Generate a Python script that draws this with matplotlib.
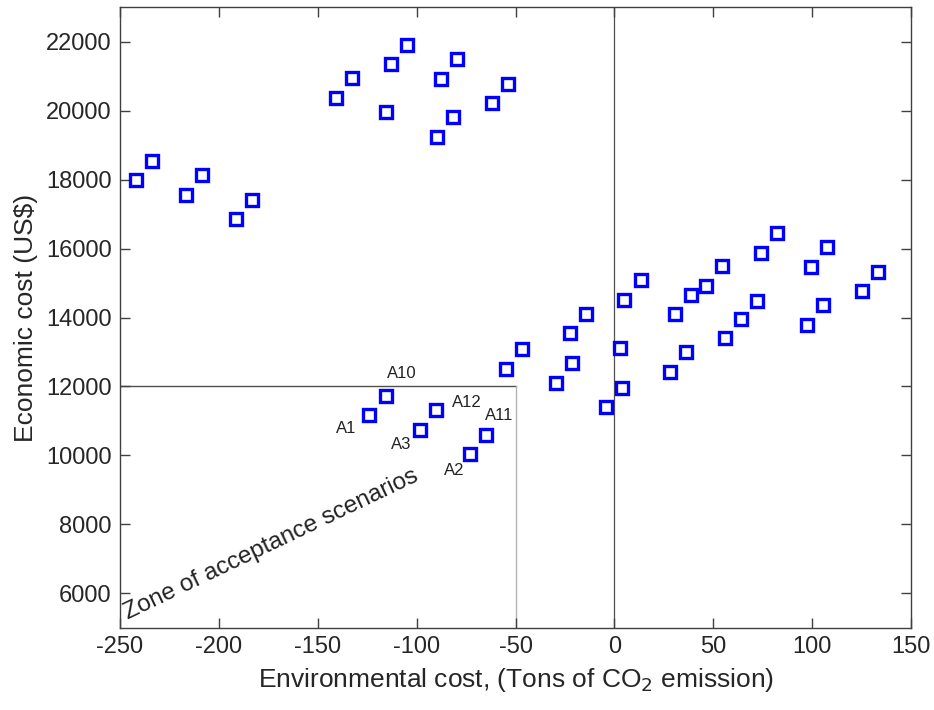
import matplotlib
matplotlib.use("Agg")
import matplotlib.pyplot as plt

plt.rcParams['font.family'] = ['Liberation Sans', 'DejaVu Sans']
plt.rcParams['axes.unicode_minus'] = False

# scenarios (environmental cost, economic cost)
env_cost = [-242.1, -234.0, -216.8, -208.4, -191.2, -183.1,
            -140.8, -132.5, -115.3, -113.0, -104.7, -89.9, -87.5, -81.6, -79.4, -62.1, -54.0,
            -123.9, -115.7, -98.5, -90.4, -73.0, -64.9,
            -55.0, -46.9, -29.5, -22.5, -21.4, -14.4, -4.2, 2.8, 4.0, 5.0, 13.3,
            30.5, 38.7, 46.3, 54.6, 28.1, 36.4, 56.1, 64.2, 72.0, 74.1, 82.4,
            97.4, 99.6, 105.5, 107.7, 125.1, 133.3]
econ_cost = [17980, 18552, 17564, 18134, 16855, 17419,
             20363, 20936, 19956, 21343, 21904, 19250, 20924, 19811, 21488, 20218, 20779,
             11157, 11709, 10750, 11314, 10035, 10596,
             12515, 13076, 12108, 13541, 12669, 14105, 11401, 13125, 11962, 14520, 15081,
             14093, 14666, 14919, 15480, 12427, 12988, 13395, 13948, 14491, 15878, 16448,
             13794, 15471, 14355, 16032, 14762, 15326]

# labelled accepted scenarios and where their labels sit
label_names = ['A10', 'A1', 'A3', 'A12', 'A11', 'A2']
label_x = [-107.6, -135.7, -108.0, -74.4, -58.3, -81.1]
label_y = [12378, 10779, 10305, 11535, 11151, 9547]

zone_x = -50
zone_y = 12000

fig = plt.figure(figsize=(9.34, 7.10), dpi=100)
ax = fig.add_axes([120 / 934, 1 - 627.7 / 710, 791 / 934, 620.4 / 710])

ax.plot(env_cost, econ_cost, linestyle='none', marker='s', markersize=8.5,
        markeredgewidth=2.4, markeredgecolor='#0000ff', markerfacecolor='white', zorder=3)

ax.axvline(0, color='#505050', linewidth=0.9, zorder=1)
ax.plot([-250, zone_x], [zone_y, zone_y], color='#505050', linewidth=1.0, zorder=1)
ax.plot([zone_x, zone_x], [5000, zone_y], color='#b4b4b4', linewidth=1.0, zorder=1)

for name, tx, ty in zip(label_names, label_x, label_y):
    ax.text(tx, ty, name, fontsize=12, ha='center', va='center', color='#222222')

ax.text(-246, 5250, 'Zone of acceptance scenarios', fontsize=17.5, rotation=25.5,
        rotation_mode='anchor', ha='left', va='baseline', color='#222222')

ax.set_xlim(-250, 150)
ax.set_ylim(5000, 23000)
ax.set_xticks(range(-250, 151, 50))
ax.set_yticks(range(6000, 22001, 2000))

for s in ax.spines.values():
    s.set_color('#404040')
    s.set_linewidth(1.0)
ax.tick_params(direction='in', length=7, width=1.0, color='#404040', labelsize=17,
               labelcolor='#262626', top=True, right=True, pad=6)

ax.set_xlabel('Environmental cost, (Tons of CO$_2$ emission)', fontsize=19, color='#262626', labelpad=6)
ax.set_ylabel('Economic cost (US$)', fontsize=19, color='#262626', labelpad=6)

fig.savefig('out.png', dpi=100)
